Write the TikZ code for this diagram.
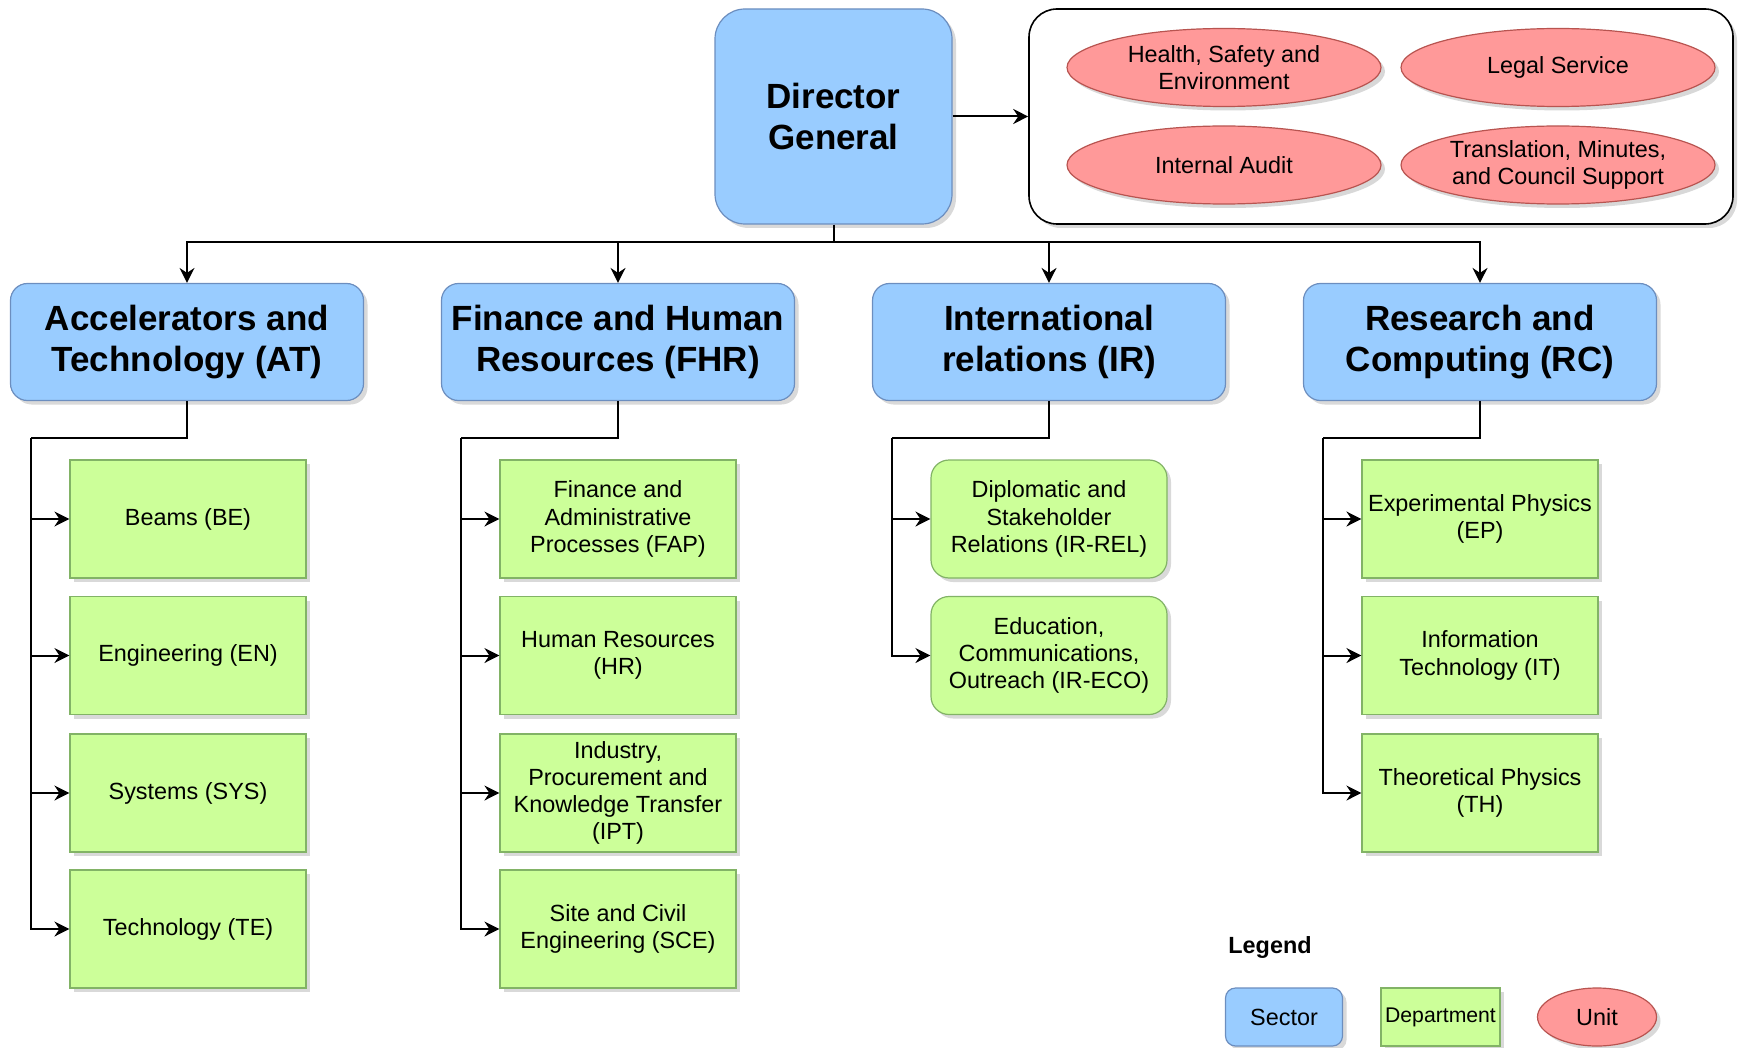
\documentclass[tikz,border=0pt]{standalone}
\usepackage{fontspec}
\setmainfont{Liberation Sans}
\usetikzlibrary{shapes.geometric,shadows,arrows.meta}

\definecolor{secfill}{HTML}{99CCFF}
\definecolor{secline}{HTML}{6C8EBF}
\definecolor{depfill}{HTML}{CCFF99}
\definecolor{depline}{HTML}{82B366}
\definecolor{unifill}{HTML}{FF9999}
\definecolor{uniline}{HTML}{B85450}

\tikzset{
  shade/.style={drop shadow={shadow xshift=2pt,shadow yshift=-2pt,opacity=0.3}},
  bigfont/.style={font=\fontsize{17.5pt}{20.5pt}\selectfont\bfseries},
  smallfont/.style={font=\fontsize{11.7pt}{13.6pt}\selectfont},
  sectorbox/.style={draw=secline,fill=secfill,line width=0.6pt,rounded corners=8.5pt,
    minimum width=176.5pt,minimum height=58.5pt,align=center,bigfont,shade},
  deptbox/.style={draw=depline,fill=depfill,line width=0.6pt,
    minimum width=118pt,minimum height=59pt,inner sep=2pt,align=center,smallfont,shade},
  unitell/.style={ellipse,draw=uniline,fill=unifill,line width=0.6pt,
    minimum width=157pt,minimum height=39pt,inner sep=1pt,align=center,smallfont,shade},
  arr/.style={line width=1pt,-{Stealth[length=7.5pt,width=7.5pt,inset=2.5pt]}},
  wire/.style={line width=1pt}
}

\begin{document}
\begin{tikzpicture}[x=0.5pt,y=-0.5pt]
\useasboundingbox (0,0) rectangle (1739,1048);

% top level
\node[sectorbox,rounded corners=15pt,minimum width=118.5pt,minimum height=107.5pt] (dg) at (833.5,116.5) {Director\\General};
\node[draw,fill=white,line width=0.8pt,rounded corners=14pt,minimum width=352pt,minimum height=107.5pt,shade] (units) at (1381,116.5) {};
\node[unitell] (hse) at (1224,67.5) {Health, Safety and\\Environment};
\node[unitell] (legal) at (1558,67.5) {Legal Service};
\node[unitell] (audit) at (1224,165) {Internal Audit};
\node[unitell] (trans) at (1558,165) {Translation, Minutes,\\and Council Support};
\draw[arr] (dg.east) -- (units.west);

% sectors
\node[sectorbox] (at) at (187,342) {Accelerators and\\Technology (AT)};
\node[sectorbox] (fhr) at (618,342) {Finance and Human\\Resources (FHR)};
\node[sectorbox] (ir) at (1049,342) {International\\relations (IR)};
\node[sectorbox] (rc) at (1480,342) {Research and\\Computing (RC)};
\coordinate (bus) at (833.5,242);
\draw[wire] (dg.south) -- (bus);
\foreach \s in {at,fhr,ir,rc}
  \draw[arr] (bus) -| (\s.north);

% departments
\node[deptbox] (be) at (188,519) {Beams (BE)};
\node[deptbox] (en) at (188,655.5) {Engineering (EN)};
\node[deptbox] (sys) at (188,793) {Systems (SYS)};
\node[deptbox] (te) at (188,929) {Technology (TE)};

\node[deptbox] (fap) at (618,519) {Finance and\\Administrative\\Processes (FAP)};
\node[deptbox] (hr) at (618,655.5) {Human Resources\\(HR)};
\node[deptbox] (ipt) at (618,793) {Industry,\\Procurement and\\Knowledge Transfer\\(IPT)};
\node[deptbox] (sce) at (618,929) {Site and Civil\\Engineering (SCE)};

\node[deptbox,rounded corners=9pt] (irrel) at (1049,519) {Diplomatic and\\Stakeholder\\Relations (IR-REL)};
\node[deptbox,rounded corners=9pt] (ireco) at (1049,655.5) {Education,\\Communications,\\Outreach (IR-ECO)};

\node[deptbox] (ep) at (1480,519) {Experimental Physics\\(EP)};
\node[deptbox] (it) at (1480,655.5) {Information\\Technology (IT)};
\node[deptbox] (th) at (1480,793) {Theoretical Physics\\(TH)};

\coordinate (atj) at (31,438);
\coordinate (fhrj) at (461,438);
\coordinate (irj) at (892,438);
\coordinate (rcj) at (1323,438);
\draw[wire] (at.south) |- (atj);
\draw[wire] (fhr.south) |- (fhrj);
\draw[wire] (ir.south) |- (irj);
\draw[wire] (rc.south) |- (rcj);
\foreach \d in {be,en,sys,te} \draw[arr] (atj) |- (\d.west);
\foreach \d in {fap,hr,ipt,sce} \draw[arr] (fhrj) |- (\d.west);
\foreach \d in {irrel,ireco} \draw[arr] (irj) |- (\d.west);
\foreach \d in {ep,it,th} \draw[arr] (rcj) |- (\d.west);

% legend
\node[font=\fontsize{11.7pt}{13.6pt}\selectfont\bfseries] (legend) at (1270,947) {Legend};
\node[sectorbox,smallfont,rounded corners=5pt,minimum width=58.5pt,minimum height=29pt] (lsec) at (1284,1017) {Sector};
\node[deptbox,font=\fontsize{10.6pt}{12pt}\selectfont,inner sep=0pt,minimum width=59.5pt,minimum height=29pt] (ldep) at (1440.5,1017) {Department};
\node[unitell,minimum width=59.5pt,minimum height=29pt] (luni) at (1597,1017) {Unit};
\end{tikzpicture}
\end{document}
